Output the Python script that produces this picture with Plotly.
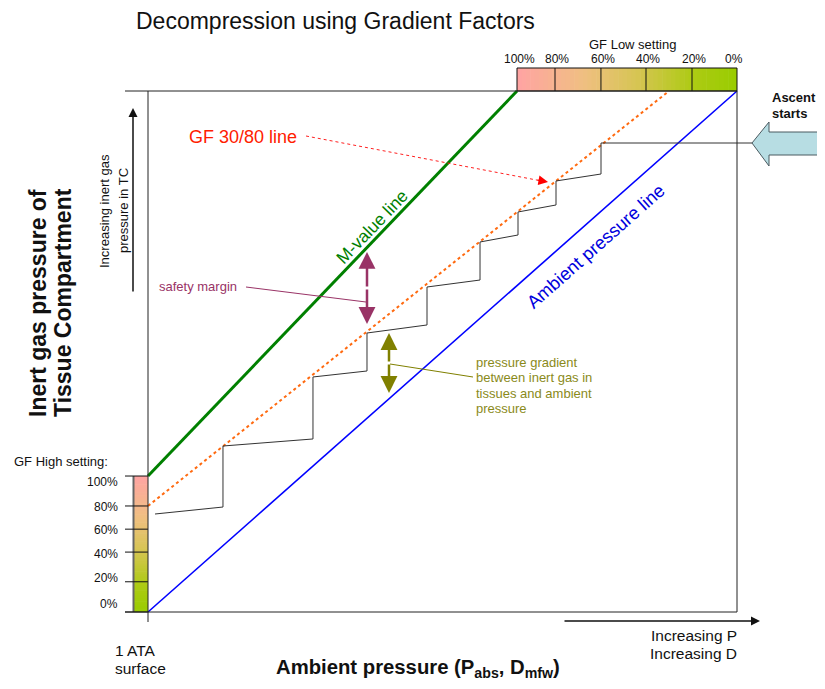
import plotly.graph_objects as go

# ---------------- data (chart units: ambient pressure 0..1, tissue pressure 0..1) -------------
ambient_x = [0.0, 1.0]
ambient_y = [0.0, 1.0]
mvalue_x = [0.0, 0.6265]
mvalue_y = [0.261, 1.0]
gf_line_x = [0.0, 0.8846]
gf_line_y = [0.2035, 1.0]
profile_x = [1.0255, 0.7691, 0.7691, 0.6927, 0.6927, 0.6282, 0.6282, 0.5637, 0.5637,
             0.4737, 0.4737, 0.3718, 0.3718, 0.2801, 0.2801, 0.1273, 0.1273, 0.0119]
profile_y = [0.9002, 0.9002, 0.8407, 0.8273, 0.7812, 0.7678, 0.7236, 0.7102, 0.6372,
             0.6238, 0.5509, 0.5355, 0.4626, 0.4511, 0.3321, 0.3186, 0.2015, 0.1881]
gf_low_labels = ["100%", "80%", "60%", "40%", "20%", "0%"]
gf_low_bounds = [0.6265, 0.691, 0.769, 0.8455, 0.9236, 1.0]
gf_high_labels = ["100%", "80%", "60%", "40%", "20%", "0%"]
gf_high_ticks = [0.261, 0.2035, 0.159, 0.115, 0.058, 0.0]

# ---------------- layout helpers (reference pixel -> chart units) ----------------
VW, VH = 825, 689      # window size
OFF = 8                # page body margin
W, H = VW - OFF, VH - OFF
L, R, T, B = 148, 737, 91, 612


def X(px):
    return (px - L) / (R - L)


def Y(py):
    return (B - py) / (B - T)


def PX(x):
    return L + x * (R - L)


def PY(y):
    return B - y * (B - T)


FONT = "Liberation Sans, Arial, sans-serif"

fig = go.Figure()
shapes = []
ann = []


def line(x0, y0, x1, y1, color="#222", width=1, dash=None):
    d = dict(type="line", xref="x", yref="y", x0=X(x0), y0=Y(y0), x1=X(x1), y1=Y(y1),
             line=dict(color=color, width=width))
    if dash:
        d["line"]["dash"] = dash
    shapes.append(d)


def text(px, py, s, size, color="#111", xanchor="center", angle=0, bold=False):
    if bold:
        s = "<b>" + s + "</b>"
    ann.append(dict(x=X(px), y=Y(py), text=s, showarrow=False, textangle=angle,
                    font=dict(size=size, color=color), xanchor=xanchor, yanchor="middle"))


def arrow(hx, hy, tx, ty, color, width, size=1.1):
    ann.append(dict(x=X(hx), y=Y(hy), ax=X(tx), ay=Y(ty), axref="x", ayref="y", xref="x", yref="y",
                    text="", showarrow=True, arrowhead=2, arrowsize=size, arrowwidth=width,
                    arrowcolor=color))


def lerp_color(stops, t):
    for i in range(len(stops) - 1):
        t0, c0 = stops[i]
        t1, c1 = stops[i + 1]
        if t0 <= t <= t1:
            f = (t - t0) / (t1 - t0) if t1 > t0 else 0
            a = [int(c0[k:k + 2], 16) for k in (1, 3, 5)]
            b = [int(c1[k:k + 2], 16) for k in (1, 3, 5)]
            c = [round(a[j] + (b[j] - a[j]) * f) for j in range(3)]
            return "rgb(%d,%d,%d)" % tuple(c)
    return stops[-1][1]


grad = [(0.0, "#ffa3a3"), (0.3, "#f0bf82"), (0.55, "#d6c552"), (0.8, "#adcb14"), (1.0, "#99cc00")]

# GF Low gradient bar (top)
gl_x0, gl_x1 = PX(gf_low_bounds[0]), PX(gf_low_bounds[-1])
N = 50
for i in range(N):
    a = gl_x0 + (gl_x1 - gl_x0) * i / N
    b = gl_x0 + (gl_x1 - gl_x0) * (i + 1) / N + 0.6
    shapes.append(dict(type="rect", xref="x", yref="y", x0=X(a), x1=X(min(b, gl_x1)), y0=Y(68), y1=Y(91),
                       fillcolor=lerp_color(grad, (i + 0.5) / N), line=dict(width=0), layer="below"))
shapes.append(dict(type="rect", xref="x", yref="y", x0=X(gl_x0), x1=X(gl_x1), y0=Y(68), y1=Y(91),
                   line=dict(color="#111", width=1), fillcolor="rgba(0,0,0,0)"))
for bx in gf_low_bounds[1:-1]:
    line(PX(bx), 68, PX(bx), 91, "#111", 1)
for lab, bx in zip(gf_low_labels, gf_low_bounds):
    text(PX(bx) + (2 if lab != "0%" else -3), 59, lab, 12)
text(632, 44, "GF Low setting", 13)

# GF High gradient bar (left)
gh_y0, gh_y1 = PY(gf_high_ticks[0]), PY(gf_high_ticks[-1])
for i in range(N):
    a = gh_y0 + (gh_y1 - gh_y0) * i / N
    b = gh_y0 + (gh_y1 - gh_y0) * (i + 1) / N + 0.6
    shapes.append(dict(type="rect", xref="x", yref="y", x0=X(133), x1=X(148), y0=Y(a), y1=Y(min(b, gh_y1)),
                       fillcolor=lerp_color(grad, (i + 0.5) / N), line=dict(width=0), layer="below"))
line(133.5, gh_y0, 133.5, gh_y1, "#666", 2)
for tv in gf_high_ticks:
    line(125, PY(tv), 148, PY(tv), "#111", 1)
hi_label_py = [482, 507, 530, 554, 578, 604]
for lab, py in zip(gf_high_labels, hi_label_py):
    text(120, py, lab, 12, xanchor="right")
text(12, 461, "GF High setting:", 13, xanchor="left")

# plot frame
line(125, 91, 737, 91, "#222", 1)
line(148, 91, 148, 622, "#222", 1)
line(737, 91, 737, 612, "#222", 1)
line(125, 612, 737, 612, "#222", 1)

# ---------------- traces ----------------
fig.add_trace(go.Scatter(x=ambient_x, y=ambient_y, mode="lines", line=dict(color="#0000ff", width=1.6),
                         hoverinfo="skip", showlegend=False))
fig.add_trace(go.Scatter(x=gf_line_x, y=gf_line_y, mode="lines", line=dict(color="#ff6a10", width=2, dash="dot"),
                         hoverinfo="skip", showlegend=False))
fig.add_trace(go.Scatter(x=profile_x, y=profile_y, mode="lines", line=dict(color="#333", width=1),
                         hoverinfo="skip", showlegend=False))
fig.add_trace(go.Scatter(x=mvalue_x, y=mvalue_y, mode="lines", line=dict(color="#008000", width=3),
                         hoverinfo="skip", showlegend=False))

# ---------------- annotations ----------------
text(335, 21, "Decompression using Gradient Factors", 23)

# y-axis title and arrow
text(38, 303, "Inert gas pressure of", 23, angle=-90, bold=True)
text(63, 303, "Tissue Compartment", 23, angle=-90, bold=True)
text(104, 211, "Increasing inert gas", 13, angle=-90)
text(123, 211, "pressure in TC", 13, angle=-90)
arrow(133, 108, 133, 293, "#111", 1.5, 1.2)

# x-axis title and arrow
text(418, 668, "Ambient pressure (P<sub>abs</sub>, D<sub>mfw</sub>)", 20.3, bold=True)
text(113, 650, "1 ATA", 15.5, xanchor="left")
text(113, 668, "surface", 15.5, xanchor="left")
text(739, 635, "Increasing P", 15.5, xanchor="right")
text(739, 653, "Increasing D", 15.5, xanchor="right")
arrow(760, 621, 563, 621, "#111", 1.5, 1.2)

# line labels
text(372, 227, "M-value line", 17.5, color="#008000", angle=-46.2)
text(595, 246, "Ambient pressure line", 18.3, color="#0000dd", angle=-41.5)

# GF 30/80 line label + dotted red pointer
text(187, 137, "GF 30/80 line", 18, color="#ff2000", xanchor="left")
line(306, 136, 547, 182, "#ff2020", 1, "dot")
ann.append(dict(x=X(548), y=Y(182), ax=-12, ay=-2.3, xref="x", yref="y",
                text="", showarrow=True, arrowhead=2, arrowsize=1.6, arrowwidth=1.2, arrowcolor="#ff0000"))

# safety margin double arrow
PURP = "#993366"
for ty in (252, 324):
    arrow(367, ty, 367, 288, PURP, 2.5, 1.35)
text(157, 286, "safety margin", 13, color=PURP, xanchor="left")
line(246, 287, 366, 302, PURP, 1)

# pressure gradient double arrow
OLIVE = "#808000"
for ty in (333, 393):
    arrow(389, ty, 389, 363, OLIVE, 2.5, 1.35)
line(390, 364, 473, 377, OLIVE, 1)
for s, py in zip(["pressure gradient", "between inert gas in", "tissues and ambient", "pressure"],
                 [362, 377.5, 393, 408.5]):
    text(474, py, s, 13, color="#8a8a1a", xanchor="left")

# Ascent starts arrow
pts = [(752, 143), (769, 122), (769, 132), (820, 132), (820, 155), (769, 155), (769, 166)]
path = "M " + " L ".join("%f,%f" % (X(px), Y(py)) for px, py in pts) + " Z"
shapes.append(dict(type="path", xref="x", yref="y", path=path, fillcolor="#b7dde3",
                   line=dict(color="#4a5a60", width=1)))
text(770, 97, "Ascent", 13, xanchor="left", bold=True)
text(770, 113, "starts", 13, xanchor="left", bold=True)

fig.update_layout(
    width=W, height=H, margin=dict(l=0, r=0, t=0, b=0),
    paper_bgcolor="white", plot_bgcolor="white",
    font=dict(family=FONT),
    xaxis=dict(range=[X(OFF), X(VW)], visible=False, fixedrange=True),
    yaxis=dict(range=[Y(VH), Y(OFF)], visible=False, fixedrange=True),
    shapes=shapes, annotations=ann, showlegend=False,
)
fig.write_html("out.html")
